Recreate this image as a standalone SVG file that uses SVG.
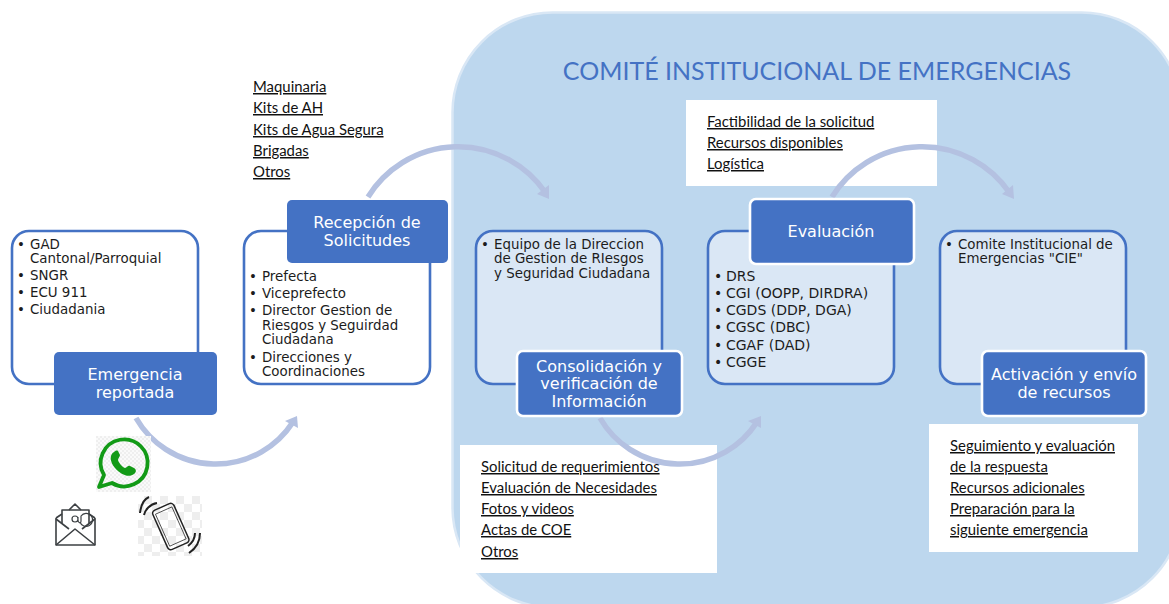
<svg xmlns="http://www.w3.org/2000/svg" width="1169" height="604" viewBox="0 0 1169 604">
<defs>
<pattern id="chk" width="16" height="16" patternUnits="userSpaceOnUse">
<rect width="16" height="16" fill="#fff"/>
<rect width="8" height="8" fill="#eeeeee"/>
<rect x="8" y="8" width="8" height="8" fill="#eeeeee"/>
</pattern>
<pattern id="chk2" width="4" height="4" patternUnits="userSpaceOnUse">
<rect width="4" height="4" fill="#fafafa"/>
<rect width="2" height="2" fill="#efefef"/>
<rect x="2" y="2" width="2" height="2" fill="#efefef"/>
</pattern>
</defs>
<style>
.list{fill:#fff;stroke:#4472c4;stroke-width:2.6}
.listb{fill:#dae7f5;stroke:#4472c4;stroke-width:2.6}
.head{fill:#4472c4}
.headw{fill:#4472c4;stroke:#fff;stroke-width:2.6}
.ht{font-family:"DejaVu Sans",Verdana,sans-serif;font-size:16px;fill:#fff;text-anchor:middle}
.bt{font-family:"DejaVu Sans",Verdana,sans-serif;font-size:13.4px;fill:#1c1c1c}
.bc{font-size:14px}
.ul{font-family:Lato,"Open Sans",sans-serif;font-size:14.9px;fill:#111;text-decoration:underline}
.arc{fill:none;stroke:#b4c1e1;stroke-width:5.5}
.ah{fill:#b4c1e1}
.box{fill:#fff}
</style>
<rect width="1169" height="604" fill="#fff"/>
<g id="panel">
<rect x="452.500" y="12.500" width="729" height="595" rx="100" ry="100" fill="#bdd7ee" stroke="#d9e7f5" stroke-width="2.500"/>
<text x="817" y="80" font-family="Lato,'Open Sans',sans-serif" font-size="25px" fill="#4472c4" text-anchor="middle">COMITÉ INSTITUCIONAL DE EMERGENCIAS</text>
</g>
<g id="box-evaluacion-notes"><rect class="box" x="686" y="100" width="251" height="86"/></g>
<g id="box-consolidacion-notes"><rect class="box" x="460" y="445" width="257" height="128"/></g>
<g id="box-activacion-notes"><rect class="box" x="929" y="424" width="209" height="128"/></g>
<g id="connectors">
<path class="arc" d="M136 418A92 92 0 0 0 293 422"/>
<polygon class="ah" points="297,416 298,428 285,421"/>
<path class="arc" d="M368 197A106 106 0 0 1 545 192"/>
<polygon class="ah" points="549,199 537,194 549,185"/>
<path class="arc" d="M600 418A92 92 0 0 0 757 422"/>
<polygon class="ah" points="761,416 761,428 748,421"/>
<path class="arc" d="M832 197A106 106 0 0 1 1009 192"/>
<polygon class="ah" points="1014,199 1002,194 1013,185"/>
</g>
<g id="node-emergencia">
<rect class="list" x="12" y="231" width="186" height="153" rx="17"/>
<rect class="head" x="54" y="352" width="163" height="63" rx="5"/>
<text class="ht"><tspan x="135" y="380">Emergencia</tspan><tspan x="135" y="398">reportada</tspan></text>
<text class="bt"><tspan x="17" y="249">•</tspan><tspan x="30" y="249">GAD</tspan><tspan x="30" y="263">Cantonal/Parroquial</tspan><tspan x="17" y="280">•</tspan><tspan x="30" y="280">SNGR</tspan><tspan x="17" y="297">•</tspan><tspan x="30" y="297">ECU 911</tspan><tspan x="17" y="314">•</tspan><tspan x="30" y="314">Ciudadania</tspan></text>
</g>
<g id="node-recepcion">
<rect class="list" x="244" y="231" width="186" height="153" rx="17"/>
<rect class="head" x="287" y="200" width="161" height="63" rx="5"/>
<text class="ht"><tspan x="367" y="228">Recepción de</tspan><tspan x="367" y="246">Solicitudes</tspan></text>
<text class="bt"><tspan x="249" y="281">•</tspan><tspan x="262" y="281">Prefecta</tspan><tspan x="249" y="298">•</tspan><tspan x="262" y="298">Viceprefecto</tspan><tspan x="249" y="315">•</tspan><tspan x="262" y="315">Director Gestion de</tspan><tspan x="262" y="330">Riesgos y Seguirdad</tspan><tspan x="262" y="344">Ciudadana</tspan><tspan x="249" y="362">•</tspan><tspan x="262" y="362">Direcciones y</tspan><tspan x="262" y="376">Coordinaciones</tspan></text>
</g>
<g id="notes-recepcion">
<text class="ul"><tspan x="253" y="92">Maquinaria</tspan><tspan x="253" y="113">Kits de AH</tspan><tspan x="253" y="135">Kits de Agua Segura</tspan><tspan x="253" y="156">Brigadas</tspan><tspan x="253" y="177">Otros</tspan></text>
</g>
<g id="node-consolidacion">
<rect class="listb" x="476" y="231" width="186" height="153" rx="17"/>
<rect class="headw" x="517" y="351" width="165" height="65" rx="6"/>
<text class="ht"><tspan x="599" y="372">Consolidación y</tspan><tspan x="599" y="389">verificación de</tspan><tspan x="599" y="407">Información</tspan></text>
<text class="bt"><tspan x="481" y="249">•</tspan><tspan x="494" y="249">Equipo de la Direccion</tspan><tspan x="494" y="263">de Gestion de RIesgos</tspan><tspan x="494" y="278">y Seguridad Ciudadana</tspan></text>
</g>
<g id="node-evaluacion">
<rect class="listb" x="708" y="231" width="186" height="153" rx="17"/>
<rect class="headw" x="750" y="199" width="164" height="65" rx="6"/>
<text class="ht" x="831" y="237">Evaluación</text>
<text class="bt bc"><tspan x="714" y="281">•</tspan><tspan x="726" y="281">DRS</tspan><tspan x="714" y="298">•</tspan><tspan x="726" y="298">CGI (OOPP, DIRDRA)</tspan><tspan x="714" y="315">•</tspan><tspan x="726" y="315">CGDS (DDP, DGA)</tspan><tspan x="714" y="332">•</tspan><tspan x="726" y="332">CGSC (DBC)</tspan><tspan x="714" y="350">•</tspan><tspan x="726" y="350">CGAF (DAD)</tspan><tspan x="714" y="367">•</tspan><tspan x="726" y="367">CGGE</tspan></text>
</g>
<g id="node-activacion">
<rect class="listb" x="940" y="231" width="186" height="153" rx="17"/>
<rect class="headw" x="982" y="351" width="164" height="65" rx="6"/>
<text class="ht"><tspan x="1064" y="380">Activación y envío</tspan><tspan x="1064" y="398">de recursos</tspan></text>
<text class="bt"><tspan x="945" y="249">•</tspan><tspan x="958" y="249">Comite Institucional de</tspan><tspan x="958" y="263">Emergencias "CIE"</tspan></text>
</g>
<g id="notes-evaluacion">
<text class="ul"><tspan x="707" y="127">Factibilidad de la solicitud</tspan><tspan x="707" y="148">Recursos disponibles</tspan><tspan x="707" y="169">Logística</tspan></text>
</g>
<g id="notes-consolidacion">
<text class="ul"><tspan x="481" y="472">Solicitud de requerimientos</tspan><tspan x="481" y="493">Evaluación de Necesidades</tspan><tspan x="481" y="514">Fotos y videos</tspan><tspan x="481" y="535">Actas de COE</tspan><tspan x="481" y="557">Otros</tspan></text>
</g>
<g id="notes-activacion">
<text class="ul"><tspan x="950" y="451">Seguimiento y evaluación</tspan><tspan x="950" y="472">de la respuesta</tspan><tspan x="950" y="493">Recursos adicionales</tspan><tspan x="950" y="514">Preparación para la</tspan><tspan x="950" y="535">siguiente emergencia</tspan></text>
</g>
<g id="icon-whatsapp">
<rect x="96" y="436" width="55" height="56" fill="url(#chk2)"/>
<path d="M99 487L104 475A23.500 23.500 0 1 1 112 483Z" fill="url(#chk2)" stroke="#129a16" stroke-width="3.800" stroke-linejoin="round"/>
<path d="M114 452C109 455 110 462 115 468C121 475 129 478 134 474C137 472 136 469 134 468L130 466C128 465 127 468 125 468C122 467 119 463 118 460C118 458 120 457 120 455L118 451C117 450 115 451 114 452Z" fill="#129a16"/>
</g>
<g id="icon-email" fill="none" stroke="#3c4043" stroke-width="1.600" stroke-linejoin="round">
<path d="M56 518V545H95V518"/>
<path d="M56 518L62 514M95 518L89 514M69 510L75 504L81 510"/>
<path d="M62 523V510H89V523"/>
<path d="M56 545L75 529L95 545M56 519L69 529M95 519L82 529"/>
<path d="M80 522A6.500 6.500 0 1 0 81 516V521C81 524 78 523 78 520V517M78 519A3 3 0 1 1 72 519A3 3 0 1 1 78 519" stroke-width="1.200"/>
</g>
<g id="icon-phone">
<rect x="138" y="496" width="64" height="60" fill="url(#chk)"/>
<g fill="none" stroke="#222">
<rect x="159.500" y="505" width="23" height="43" rx="3.500" transform="rotate(-24 171 527)" stroke-width="1.500"/>
<rect x="162" y="509" width="18" height="35" transform="rotate(-24 171 527)" stroke-width=".7"/>
<path d="M157 503C150 504 145 510 144 515M149 497C144 499 141 505 140 513M188 546C192 543 195 538 195 533M189 553C195 549 200 542 200 533" stroke-width="2"/>
</g>
</g>
</svg>
